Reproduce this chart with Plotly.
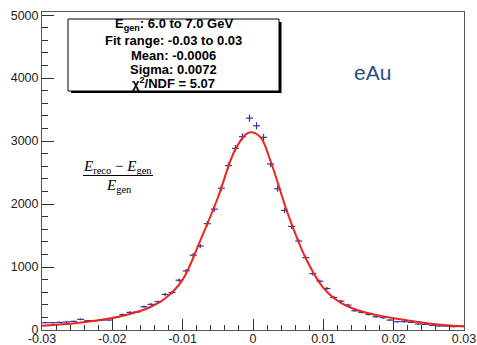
import plotly.graph_objects as go

# ---- data ----
bin_centers = [round(-0.0295 + 0.001 * i, 4) for i in range(60)]
counts = [116, 116, 121, 127, 137, 169, 148, 148, 158, 158,
          200, 245, 280, 286, 370, 407, 449, 565, 596, 791,
          939, 1187, 1334, 1688, 1920, 2252, 2611, 2885, 3069, 3364,
          3243, 3059, 2637, 2242, 1899, 1645, 1413, 1149, 896, 775,
          659, 516, 458, 396, 306, 280, 248, 211, 195, 158,
          132, 132, 121, 95, 90, 74, 63, 63, 53, 63]
bin_half_width = [0.0005] * 60

fit_x = [-0.03, -0.025, -0.02, -0.0175, -0.015, -0.0125, -0.01, -0.0075, -0.005,
         -0.0025, -0.0006, 0.001, 0.0025, 0.005, 0.0075, 0.01, 0.0125, 0.015,
         0.0175, 0.02, 0.025, 0.03]
fit_y = [68, 112, 190, 255, 345, 500, 800, 1420, 2100,
         2870, 3135, 3070, 2680, 1830, 1140, 670, 430, 310,
         240, 185, 105, 55]

x_tickvals = [-0.03, -0.02, -0.01, 0, 0.01, 0.02, 0.03]
x_ticktext = ["-0.03", "-0.02", "-0.01", "0", "0.01", "0.02", "0.03"]
y_tickvals = [0, 1000, 2000, 3000, 4000, 5000]
y_ticktext = ["0", "1000", "2000", "3000", "4000", "5000"]

info_lines = ["E<sub>gen</sub>: 6.0 to 7.0 GeV",
              "Fit range: -0.03 to 0.03",
              "Mean: -0.0006",
              "Sigma: 0.0072",
              "\u03c7<sup>2</sup>/NDF = 5.07"]
label_text = "eAu"

# ---- layout geometry (pixels) ----
W, H = 477, 345
L, R, T, B = 42, 464, 12, 330


def px(xp):
    return (xp - L) / (R - L)


def py(yp):
    return (B - yp) / (B - T)


err_y = [c ** 0.5 for c in counts]
mark_color = "#34349e"

fig = go.Figure()
fig.add_trace(go.Scatter(
    x=bin_centers, y=counts, mode="markers",
    marker=dict(size=1, color=mark_color),
    error_x=dict(type="data", array=bin_half_width, color=mark_color, thickness=1.2, width=0),
    error_y=dict(type="data", array=err_y, color=mark_color, thickness=1.2, width=0),
    showlegend=False, hoverinfo="skip"))
fig.add_trace(go.Scatter(
    x=fit_x, y=fit_y, mode="lines",
    line=dict(color="#f0221c", width=2, shape="spline", smoothing=1.0),
    showlegend=False, hoverinfo="skip"))

axis_common = dict(showline=True, linecolor="#555", linewidth=1, mirror=True,
                   ticks="inside", tickcolor="#333", showgrid=False, zeroline=False,
                   automargin=False,
                   tickfont=dict(family="Liberation Sans", size=12.5, color="#222"))
fig.update_xaxes(range=[-0.03, 0.03], tickvals=x_tickvals, ticktext=x_ticktext,
                 ticklen=11, ticklabelstandoff=-3,
                 minor=dict(dtick=0.002, tick0=0, ticklen=5, ticks="inside", tickcolor="#333"),
                 **axis_common)
fig.update_yaxes(range=[0, 5050], tickvals=y_tickvals, ticktext=y_ticktext,
                 ticklen=12, minor=dict(dtick=200, tick0=0, ticklen=6, ticks="inside", tickcolor="#333"),
                 **axis_common)

shapes = [
    # shadow
    dict(type="rect", xref="paper", yref="paper", x0=px(71), x1=px(281.5), y0=py(93), y1=py(22),
         fillcolor="black", line=dict(width=0), layer="above"),
    # box
    dict(type="rect", xref="paper", yref="paper", x0=px(68), x1=px(279), y0=py(91), y1=py(19),
         fillcolor="white", line=dict(color="black", width=1), layer="above"),
    # fraction bar
    dict(type="line", xref="paper", yref="paper", x0=px(83), x1=px(153), y0=py(175.5), y1=py(175.5),
         line=dict(color="black", width=1)),
]

ann = []
line_y = [25, 40.5, 56, 69.5, 83]
for t, yy in zip(info_lines, line_y):
    ann.append(dict(text=t, xref="paper", yref="paper", x=px(173.5), y=py(yy),
                    xanchor="center", yanchor="middle", showarrow=False,
                    font=dict(family="Liberation Sans", size=13, color="black", weight="bold")))
ann.append(dict(text=label_text, xref="paper", yref="paper", x=px(372), y=py(73),
                xanchor="center", yanchor="middle", showarrow=False,
                font=dict(family="Liberation Sans", size=21, color="#264d86")))
ann.append(dict(text="<i>E</i><sub>reco</sub> \u2212 <i>E</i><sub>gen</sub>", xref="paper", yref="paper",
                x=px(117.5), y=py(167), xanchor="center", yanchor="middle", showarrow=False,
                font=dict(family="Liberation Serif", size=15, color="black")))
ann.append(dict(text="<i>E</i><sub>gen</sub>", xref="paper", yref="paper",
                x=px(118.5), y=py(186), xanchor="center", yanchor="middle", showarrow=False,
                font=dict(family="Liberation Serif", size=15, color="black")))

fig.update_layout(width=W, height=H, margin=dict(l=L, r=W - R, t=T, b=H - B),
                  paper_bgcolor="white", plot_bgcolor="white",
                  shapes=shapes, annotations=ann)

fig.write_html("out.html")
